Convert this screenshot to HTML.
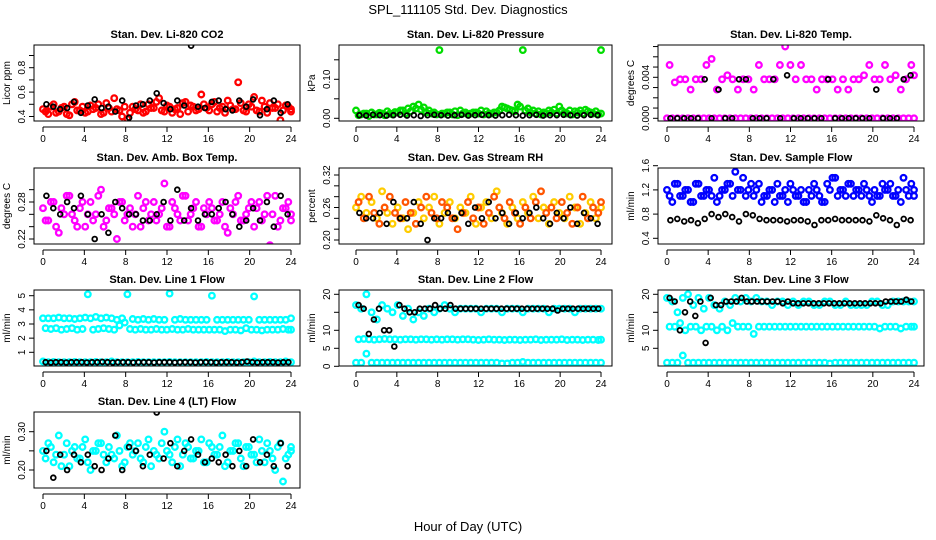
<!DOCTYPE html>
<html><head><meta charset="utf-8"><style>
body{margin:0;background:#fff}
svg{display:block;font-family:"Liberation Sans",sans-serif}
.tk{font-size:10px}
.tt{font-size:11px;font-weight:bold}
</style></head><body>
<svg id="c" width="936" height="540" viewBox="0 0 936 540">
<text x="468" y="14" text-anchor="middle" font-size="13">SPL_111105  Std. Dev. Diagnostics</text>
<text x="468" y="531" text-anchor="middle" font-size="13">Hour of Day (UTC)</text>
</svg>
<script>
const xTicks=[0,4,8,12,16,20,24];
// CO2
const co2Red=[0.46,0.42,0.50,0.44,0.48,0.41,0.52,0.45,0.43,0.49,0.47,0.42,0.51,0.44,0.46,0.40,0.38,0.48,0.45,0.43,0.50,0.47,0.55,0.44,0.48,0.46,0.42,0.52,0.49,0.45,0.58,0.47,0.50,0.44,0.48,0.53,0.46,0.68,0.45,0.50,0.56,0.44,0.48,0.51,0.47,0.37,0.49,0.46];
const co2Red2=[0.44,0.48,0.43,0.47,0.42,0.50,0.45,0.48,0.44,0.46,0.50,0.43,0.47,0.55,0.45,0.48,0.43,0.46,0.50,0.44,0.47,0.52,0.45,0.49,0.43,0.47,0.51,0.44,0.48,0.46,0.50,0.45,0.52,0.47,0.43,0.49,0.46,0.51,0.44,0.48,0.45,0.53,0.43,0.47,0.50,0.45,0.48,0.44];
const co2Blk=[0.50,0.48,0.46,0.47,0.52,0.43,0.49,0.54,0.47,0.48,0.44,0.53,0.39,0.49,0.50,0.53,0.59,0.51,0.46,0.53,0.49,0.98,0.48,0.47,0.52,0.53,0.46,0.45,0.53,0.48,0.54,0.41,0.46,0.53,0.43,0.50];
// Pressure
const prGreen=[0.02,0.01,0.012,0.015,0.01,0.012,0.018,0.01,0.015,0.02,0.025,0.03,0.035,0.028,0.02,0.015,0.175,0.012,0.015,0.018,0.02,0.015,0.012,0.015,0.02,0.018,0.012,0.015,0.03,0.025,0.02,0.035,0.175,0.025,0.02,0.018,0.015,0.02,0.022,0.03,0.015,0.02,0.018,0.02,0.022,0.015,0.018,0.175];
const prGreen2=[0.008,0.012,0.006,0.01,0.014,0.008,0.012,0.016,0.02,0.012,0.018,0.025,0.022,0.015,0.012,0.01,0.012,0.015,0.01,0.008,0.012,0.01,0.015,0.012,0.01,0.012,0.015,0.02,0.028,0.022,0.018,0.03,0.02,0.015,0.012,0.01,0.012,0.015,0.012,0.02,0.012,0.01,0.015,0.012,0.018,0.012,0.01,0.012];
const prBlk=[0.008,0.007,0.009,0.008,0.007,0.008,0.009,0.007,0.008,0.006,0.008,0.009,0.008,0.007,0.008,0.009,0.007,0.008,0.009,0.008,0.007,0.008,0.009,0.008,0.007,0.008,0.009,0.007,0.008,0.008,0.009,0.008,0.007,0.008,0.009,0.008];
// Li-820 temp
const tmZero=[0,0,0,0,0,0,0,0,0,0,0,0,0,0,0,0,0,0,0,0,0,0,0,0,0,0,0,0,0,0,0,0,0,0,0,0,0,0,0,0,0,0,0,0,0,0,0,0];
const tmMag=[0.0052,0.0035,0.0038,0.0038,0.0028,0.0038,0.0038,0.0052,0.0058,0.0028,0.0038,0.0042,0.0038,0.0028,0.0038,0.0038,0.0028,0.0052,0.0038,0.0038,0.0038,0.0052,0.007,0.0052,0.0038,0.0052,0.0038,0.0038,0.0028,0.0038,0.0038,0.0038,0.0028,0.0038,0.0028,0.0038,0.0038,0.0042,0.0052,0.0038,0.0038,0.0052,0.0038,0.0042,0.0028,0.0038,0.0052,0.0042];
const tmBlk=[0,0,0,0,0,0.0038,0,0.0028,0,0,0.0038,0.0038,0,0,0,0.0038,0,0.0042,0,0,0,0,0,0.0038,0,0,0,0,0,0,0.0028,0,0,0,0.0038,0.0042];
// Amb box
const abMag=[0.27,0.25,0.28,0.23,0.26,0.29,0.25,0.27,0.24,0.28,0.26,0.30,0.25,0.27,0.22,0.28,0.26,0.24,0.29,0.27,0.25,0.28,0.26,0.31,0.24,0.27,0.25,0.29,0.26,0.28,0.24,0.26,0.27,0.25,0.28,0.23,0.26,0.29,0.25,0.27,0.24,0.28,0.26,0.21,0.29,0.25,0.27,0.26];
const abMag2=[0.25,0.28,0.24,0.27,0.29,0.26,0.24,0.28,0.26,0.25,0.29,0.24,0.27,0.26,0.28,0.25,0.27,0.26,0.24,0.28,0.26,0.25,0.27,0.24,0.28,0.26,0.29,0.25,0.27,0.24,0.27,0.28,0.25,0.26,0.24,0.27,0.28,0.25,0.26,0.28,0.27,0.25,0.29,0.26,0.24,0.27,0.28,0.25];
const abBlk=[0.29,0.27,0.26,0.28,0.27,0.29,0.26,0.22,0.26,0.23,0.28,0.27,0.26,0.26,0.25,0.25,0.26,0.28,0.25,0.30,0.25,0.27,0.25,0.26,0.26,0.27,0.28,0.26,0.24,0.25,0.27,0.25,0.28,0.24,0.29,0.26];
// RH
const rhOra=[0.26,0.28,0.25,0.27,0.24,0.29,0.25,0.23,0.26,0.24,0.22,0.25,0.27,0.24,0.26,0.28,0.23,0.25,0.27,0.24,0.26,0.25,0.28,0.23,0.26,0.27,0.24,0.29,0.25,0.23,0.26,0.24,0.27,0.25,0.28,0.24,0.26,0.23,0.27,0.25,0.24,0.28,0.26,0.23,0.25,0.27,0.24,0.26];
const rhOra2=[0.27,0.24,0.28,0.25,0.23,0.26,0.28,0.25,0.24,0.27,0.25,0.23,0.26,0.28,0.25,0.24,0.27,0.26,0.24,0.22,0.25,0.27,0.24,0.26,0.23,0.25,0.28,0.26,0.24,0.27,0.25,0.23,0.26,0.24,0.27,0.29,0.25,0.26,0.24,0.27,0.25,0.23,0.26,0.28,0.24,0.26,0.25,0.27];
const rhBlk=[0.25,0.24,0.24,0.25,0.23,0.27,0.24,0.24,0.27,0.23,0.20,0.24,0.24,0.25,0.24,0.25,0.23,0.26,0.24,0.27,0.24,0.25,0.23,0.25,0.24,0.25,0.26,0.24,0.23,0.25,0.24,0.26,0.23,0.25,0.24,0.23];
// Sample flow
const sfBlue=[1.2,1.0,1.3,1.1,1.2,1.0,1.3,1.1,1.2,1.4,1.1,1.2,1.3,1.5,1.2,1.1,1.3,1.2,1.0,1.1,1.2,1.3,1.1,1.0,1.2,1.1,1.0,1.2,1.3,1.1,1.0,1.2,1.4,1.2,1.1,1.3,1.2,1.1,1.2,1.0,1.1,1.3,1.2,1.1,1.2,1.4,1.1,1.2];
const sfBlue2=[1.1,1.3,1.1,1.2,1.0,1.3,1.1,1.2,1.1,1.0,1.2,1.3,1.1,1.2,1.4,1.2,1.1,1.3,1.1,1.2,1.0,1.1,1.2,1.3,1.1,1.2,1.0,1.1,1.2,1.0,1.3,1.4,1.1,1.2,1.3,1.1,1.2,1.3,1.1,1.2,1.1,1.2,1.3,1.1,1.0,1.2,1.3,1.1];
const sfBlk=[0.7,0.72,0.68,0.7,0.65,0.72,0.8,0.75,0.8,0.75,0.68,0.8,0.78,0.72,0.7,0.7,0.7,0.68,0.7,0.7,0.68,0.62,0.7,0.7,0.72,0.7,0.7,0.7,0.7,0.68,0.78,0.73,0.7,0.62,0.72,0.7];
// Line 1
const l1Hi=[3.4,3.4,3.4,3.45,3.4,3.4,3.35,3.4,3.45,3.4,3.5,3.4,3.45,3.4,3.3,3.4,5.1,3.35,3.3,3.35,3.3,3.35,3.3,3.3,5.15,3.3,3.35,3.3,3.3,3.3,3.3,3.3,5.0,3.3,3.3,3.3,3.3,3.3,3.3,3.3,4.95,3.3,3.3,3.3,3.3,3.3,3.3,3.4];
const l1Mid=[2.7,2.65,2.7,2.6,2.65,2.7,2.6,2.65,5.1,2.6,2.65,2.7,2.65,2.6,2.9,3.1,2.65,2.6,2.65,2.6,2.6,2.65,2.6,2.6,2.65,2.6,2.6,2.65,2.6,2.6,2.6,2.6,2.6,2.6,2.5,2.6,2.6,2.55,2.7,2.6,2.6,2.55,2.6,2.6,2.6,2.65,2.6,2.6];
const l1Lo=[0.35,0.3,0.32,0.3,0.3,0.3,0.32,0.3,0.3,0.3,0.32,0.3,0.3,0.35,0.3,0.3,0.3,0.3,0.32,0.3,0.3,0.3,0.3,0.3,0.32,0.3,0.3,0.3,0.3,0.3,0.3,0.32,0.3,0.3,0.3,0.32,0.3,0.3,0.3,0.3,0.35,0.3,0.3,0.32,0.3,0.3,0.35,0.3];
const l1Blk=[0.3,0.28,0.3,0.3,0.28,0.3,0.3,0.3,0.28,0.3,0.3,0.32,0.3,0.28,0.3,0.3,0.3,0.28,0.3,0.3,0.3,0.28,0.3,0.3,0.3,0.28,0.3,0.3,0.3,0.28,0.3,0.3,0.3,0.28,0.3,0.3,0.3,0.28,0.3,0.35,0.3,0.28,0.3,0.3,0.3,0.28,0.3,0.3];
// Line 2
const l2Hi=[17,16,20,15,13,17,16,15,17,14,16,13,15,14,16,15,16,17,16,15,16,16,16,16,15,16,16,16,15,16,16,16,15,16,16,16,16,15,16,16,16,16,15,16,16,16,16,16];
const l2Mid=[7.5,7.6,7.5,7.4,7.5,7.6,7.5,7.5,7.4,7.5,7.5,7.4,7.5,7.5,7.4,7.5,7.4,7.5,7.5,7.4,7.5,7.5,7.4,7.3,7.4,7.5,7.4,7.4,7.3,7.4,7.4,7.3,7.4,7.4,7.5,7.3,7.4,7.4,7.4,7.5,7.3,7.4,7.4,7.3,7.4,7.4,7.3,7.4];
const l2Lo=[1,1,3.5,1,1,1,1,1,1,1,1,1,1,1,1,1,1,1,1,1,1,1,1,1,1,1,1,1,0.8,0.8,1,1,1.2,1,1,1,1,1,1,1,1,1,1,1,1,1,1,1];
const l2Blk=[17,16,9,13,16,10,10,5.5,17,16,15,15,16,16,16,17,16,16,17,16,16,16,16,16,16,16,16,16,16,16,16,16,16,16,16,16,16,16,16,15.5,16,16,16,16,16,16,16,16];
// Line 3
const l3Hi=[19,18,15,19,20,17,19,16,19,17,16,18,17,19,18,19,18,19,18,18,17,18,18,17,18,17,18,18,17,17,18,18,17,17,18,17,17,17,17,18,18,17,17,18,18,18,18,18];
const l3Mid=[11,11,12,10,11,11,10,11,11,10,11,10,12,11,11,11,9,11,11,11,11,11,11,11,11,11,11,11,11,11,11,11,11,11,11,11,11,11,11,11,10.5,11,11,11,10.5,11,11,11];
const l3Lo=[1,1,1,3,1,1,1,1,1,1,1,1,1,1,1,1,1,1,1,1,1,1,1,1,1,1,1,1,1,1,1,0.8,1,1,1,1,1,1,1,1,1,1,1,1,1,1,1,1];
const l3Blk=[19,18,10,15,18,14,18,6.5,19,17,17,18,18,18,19,18,18,18,18,18,18,18,17.5,18,17.5,17.5,17.5,17.5,17.5,17.5,17.5,17.5,17.5,17.5,17.5,17.5,17.5,17.5,17.5,17.5,17.5,17.5,18,18,18,18,18.5,18];
// Line 4
const l4Cy=[0.25,0.27,0.22,0.29,0.24,0.21,0.26,0.23,0.28,0.20,0.25,0.27,0.22,0.24,0.29,0.21,0.26,0.24,0.27,0.22,0.28,0.25,0.23,0.30,0.24,0.26,0.21,0.27,0.23,0.25,0.28,0.22,0.26,0.24,0.29,0.22,0.25,0.27,0.21,0.26,0.24,0.28,0.22,0.25,0.20,0.27,0.23,0.25];
const l4Cy2=[0.23,0.26,0.24,0.21,0.27,0.25,0.23,0.26,0.22,0.25,0.27,0.24,0.26,0.23,0.25,0.22,0.27,0.25,0.23,0.26,0.21,0.24,0.27,0.25,0.22,0.28,0.24,0.26,0.23,0.25,0.22,0.27,0.24,0.26,0.21,0.25,0.27,0.23,0.26,0.24,0.22,0.25,0.27,0.23,0.26,0.17,0.24,0.26];
const l4Blk=[0.25,0.18,0.24,0.2,0.24,0.22,0.24,0.21,0.2,0.23,0.29,0.2,0.26,0.25,0.21,0.24,0.35,0.23,0.27,0.21,0.25,0.28,0.24,0.22,0.23,0.22,0.24,0.21,0.25,0.21,0.28,0.22,0.24,0.21,0.27,0.21];

const svg=document.getElementById('c');
const NS='http://www.w3.org/2000/svg';
function mk(t,a,p){const e=document.createElementNS(NS,t);for(const k in a)e.setAttribute(k,a[k]);(p||svg).appendChild(e);return e;}
const cols=[{l:34,r:300,x0:43,x24:291},{l:339,r:612,x0:356,x24:601},{l:658,r:924,x0:667,x24:914}];
const rows=[{t:45,b:121},{t:168,b:244},{t:290,b:366},{t:412,b:488}];
const panels=[
 {c:0,r:0,title:'Stan. Dev. Li-820 CO2',yl:'Licor ppm',v1:0.4,y1:116.5,v2:0.8,y2:67.7,ticks:[0.4,0.5,0.6,0.7,0.8,0.9],labs:[0.4,0.6,0.8],dp:1,series:[[co2Red,'#f00'],[co2Red2,'#f00'],[co2Blk,'#000']]},
 {c:1,r:0,title:'Stan. Dev. Li-820 Pressure',yl:'kPa',v1:0,y1:118.3,v2:0.1,y2:79.3,ticks:[0,0.05,0.1,0.15],labs:[0,0.1],dp:2,series:[[prGreen,'#0d0'],[prGreen2,'#0d0'],[prBlk,'#000']]},
 {c:2,r:0,title:'Stan. Dev. Li-820 Temp.',yl:'degrees C',v1:0,y1:118.3,v2:0.004,y2:77.3,ticks:[0,0.001,0.002,0.003,0.004,0.005,0.006,0.007],labs:[0,0.004],dp:3,series:[[tmZero,'#f0f'],[tmMag,'#f0f'],[tmBlk,'#000']]},
 {c:0,r:1,title:'Stan. Dev. Amb. Box Temp.',yl:'degrees C',v1:0.22,y1:239,v2:0.28,y2:202,ticks:[0.22,0.24,0.26,0.28,0.30],labs:[0.22,0.28],dp:2,series:[[abMag,'#f0f'],[abMag2,'#f0f'],[abBlk,'#000']]},
 {c:1,r:1,title:'Stan. Dev. Gas Stream RH',yl:'percent',v1:0.2,y1:240,v2:0.32,y2:175,ticks:[0.2,0.22,0.24,0.26,0.28,0.30,0.32],labs:[0.2,0.26,0.32],dp:2,series:[[rhOra,'#fc0'],[rhOra2,'#f50'],[rhBlk,'#000']]},
 {c:2,r:1,title:'Stan. Dev. Sample Flow',yl:'ml/min',v1:0.4,y1:238.3,v2:1.6,y2:165.7,ticks:[0.4,0.8,1.2,1.6],labs:[0.4,0.8,1.2,1.6],dp:1,series:[[sfBlue,'#00f'],[sfBlue2,'#00f'],[sfBlk,'#000']]},
 {c:0,r:2,title:'Stan. Dev. Line 1 Flow',yl:'ml/min',v1:1,y1:352.3,v2:5,y2:295.7,ticks:[1,2,3,4,5],labs:[1,2,3,4,5],dp:0,series:[[l1Hi,'#0ff'],[l1Mid,'#0ff'],[l1Lo,'#0ff'],[l1Blk,'#000']]},
 {c:1,r:2,title:'Stan. Dev. Line 2 Flow',yl:'ml/min',v1:0,y1:366.3,v2:20,y2:294.3,ticks:[0,5,10,15,20],labs:[0,5,10,20],dp:0,series:[[l2Hi,'#0ff'],[l2Mid,'#0ff'],[l2Lo,'#0ff'],[l2Blk,'#000']]},
 {c:2,r:2,title:'Stan. Dev. Line 3 Flow',yl:'ml/min',v1:0,y1:366.3,v2:20,y2:294.3,ticks:[5,10,15,20],labs:[5,10,20],dp:0,series:[[l3Hi,'#0ff'],[l3Mid,'#0ff'],[l3Lo,'#0ff'],[l3Blk,'#000']]},
 {c:0,r:3,title:'Stan. Dev. Line 4 (LT) Flow',yl:'ml/min',v1:0.2,y1:470,v2:0.3,y2:431.7,ticks:[0.2,0.25,0.3],labs:[0.2,0.3],dp:2,series:[[l4Cy,'#0ff'],[l4Cy2,'#0ff'],[l4Blk,'#000']]}
];
panels.forEach((p,pi)=>{
 const C=cols[p.c],R=rows[p.r];
 const g=mk('g',{});
 
 
 const xs=h=>C.x0+(C.x24-C.x0)*h/24;
 const ys=v=>p.y1+(v-p.v1)*(p.y2-p.y1)/(p.v2-p.v1);
 const cp='cp'+pi;
 const cl=mk('clipPath',{id:cp},g);mk('rect',{x:C.l,y:R.t,width:C.r-C.l,height:R.b-R.t},cl);
 const pts=mk('g',{'clip-path':'url(#'+cp+')',fill:'none'},g);
 p.series.forEach((s,si)=>{
  const vals=s[0],n=vals.length,isB=s[1]=='#000';
  const sg=mk('g',{stroke:s[1],'stroke-width':isB?1.8:2.3},pts);
  
  
  vals.forEach((v,i)=>{
   const h=isB?(i+0.5)*24/n:i*24/(n-1)+(si%2?0.25:0);
   const c=mk('circle',{cx:xs(Math.min(h,24)).toFixed(1),cy:ys(v).toFixed(1),r:isB?2.4:2.8},sg);
   
   
  });
 });
 const bx=mk('rect',{x:C.l,y:R.t,width:C.r-C.l,height:R.b-R.t,fill:'none',stroke:'#000'},g);
 
 
 const tt=mk('text',{x:(C.l+C.r)/2,y:R.t-7,'text-anchor':'middle',class:'tt'},g);tt.textContent=p.title;
 
 
 mk('line',{x1:xs(0),x2:xs(24),y1:R.b+6,y2:R.b+6,stroke:'#000'},g);
 xTicks.forEach(t=>{
  mk('line',{x1:xs(t),x2:xs(t),y1:R.b+6,y2:R.b+11,stroke:'#000'},g);
  const tx=mk('text',{x:xs(t),y:R.b+21,'text-anchor':'middle',class:'tk'},g);tx.textContent=t;
  
  
 });
 p.ticks.forEach(t=>{
  const y=ys(t);
  mk('line',{x1:C.l,x2:C.l-5,y1:y,y2:y,stroke:'#000'},g);
 });
 p.labs.forEach(t=>{
  const y=ys(t),x=C.l-9;
  const tx=mk('text',{x:x,y:y,'text-anchor':'middle',class:'tk',transform:'rotate(-90 '+x+' '+y+')'},g);
  tx.textContent=t.toFixed(p.dp);
  
  
 });
 const ax=C.l-24,ay=(R.t+R.b)/2;
 const yl=mk('text',{x:ax,y:ay,'text-anchor':'middle',class:'tk',transform:'rotate(-90 '+ax+' '+ay+')'},g);yl.textContent=p.yl;
 
 
});
</script>
</body></html>
